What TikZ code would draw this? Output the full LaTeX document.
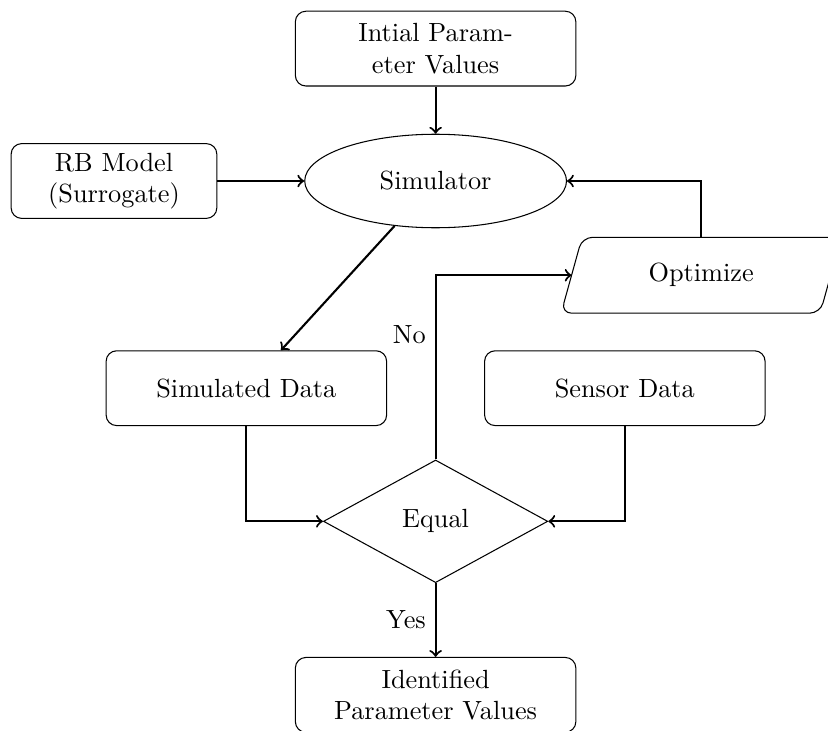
\documentclass[tikz,border=0pt]{standalone}
\usetikzlibrary{shapes.geometric}
\begin{document}
\begin{tikzpicture}[
  box/.style={draw, rectangle, rounded corners, minimum width=3.75cm, minimum height=1cm, align=center, inner sep=2pt},
  smallbox/.style={box, minimum width=2.75cm},
  ellipsebox/.style={draw, ellipse, minimum width=3.5cm, minimum height=1.25cm, inner sep=1pt},
  decision/.style={draw, diamond, minimum width=3cm, minimum height=1.64cm, inner sep=1pt},
  iobox/.style={rectangle, minimum width=3.45cm, minimum height=1cm, inner sep=1pt},
  arr/.style={->, thick}
]
\useasboundingbox (-5.824,-7.34) rectangle (5.246,2.42);

\node[box] (init) at (0,1.77) {Intial Param-\\eter Values};
\node[ellipsebox] (sim) at (0,0) {Simulator};
\node[smallbox] (rb) at (-4.30,0) {RB Model\\(Surrogate)};
\node[iobox] (opt) at (3.55,-1.26) {Optimize};
\draw[rounded corners] ([xshift=-4pt]opt.south) -- ([xshift=-4pt]opt.south east) -- ([xshift=4pt]opt.north east) -- ([xshift=4pt]opt.north west) -- ([xshift=-4pt]opt.south west) -- cycle;
\node[box] (simd) at (-2.53,-2.77) {Simulated Data};
\node[box] (sens) at (2.53,-2.77) {Sensor Data};
\node[decision] (eq) at (0,-4.55) {Equal};
\node[box] (ident) at (0,-6.87) {Identified\\Parameter Values};

\draw[arr] (init) -- (sim);
\draw[arr] (rb) -- (sim);
\draw[arr] (sim) -- (simd);
\draw[arr] (simd.south) |- (eq.west);
\draw[arr] (sens.south) |- (eq.east);
\draw[arr] (eq.north) |- node[left, pos=0.34] {No} (opt.west);
\draw[arr] (opt.north) |- (sim.east);
\draw[arr] (eq) -- node[left] {Yes} (ident);
\end{tikzpicture}
\end{document}
